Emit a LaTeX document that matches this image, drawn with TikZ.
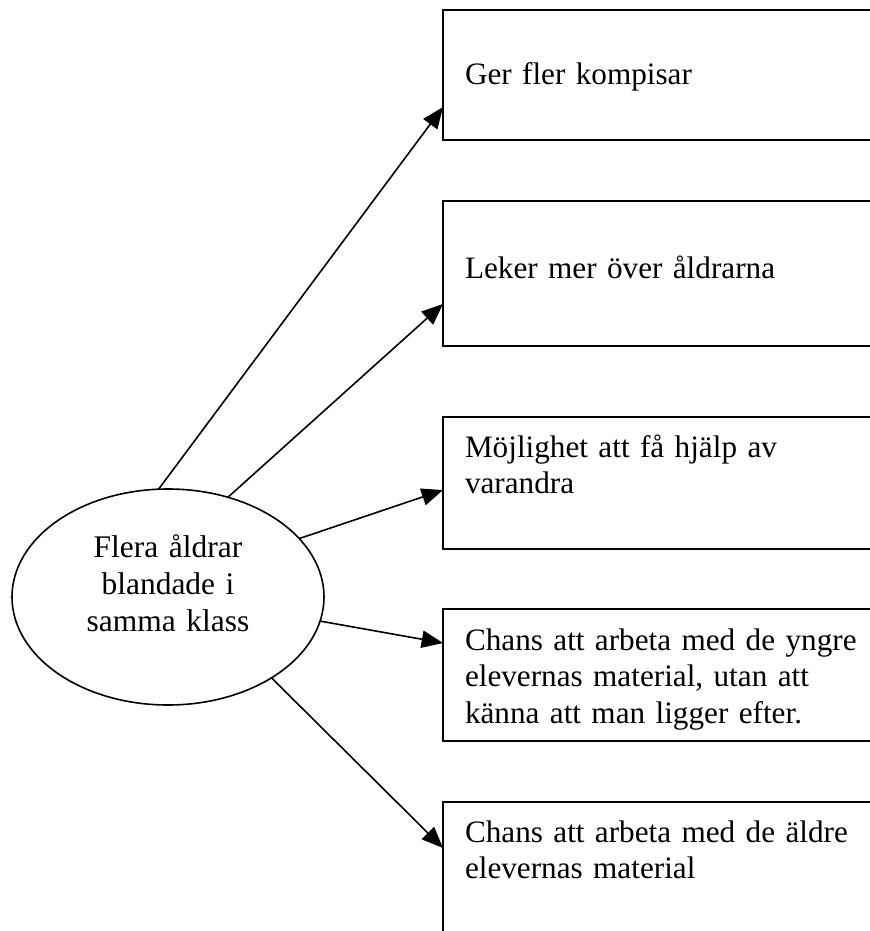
\documentclass[tikz,border=0pt]{standalone}
\usepackage{fontspec}
\setmainfont{Liberation Serif}
\usetikzlibrary{arrows.meta,shapes.geometric}
\tikzset{
  boxnode/.style={draw, line width=0.75pt, rectangle, anchor=north west, inner sep=0pt, outer sep=0pt, minimum width=172pt},
  txt/.style={anchor=base west, inner sep=0pt, outer sep=0pt, text width=160pt, align=left, font=\fontsize{11.7pt}{13.8pt}\selectfont},
  conn/.style={line width=0.6pt, -{Triangle[length=8pt, width=6.5pt]}, shorten >=0pt},
}
\begin{document}
\begin{tikzpicture}[x=0.375pt,y=-0.375pt]
\useasboundingbox (0,0) rectangle (870,931);
\clip (0,0) rectangle (870,931);
\fill[white] (0,0) rectangle (870,931);
% ellipse
\node[draw, ellipse, line width=0.6pt, inner sep=0pt, outer sep=0pt, minimum width=117pt, minimum height=81pt] (ell) at (168,597) {};
\node[anchor=base, inner sep=0pt, outer sep=0pt, text width=90pt, align=center, font=\fontsize{11.8pt}{14pt}\selectfont] (etxt) at (168,557) {Flera åldrar\\blandade i\\samma klass};
% boxes
\node[boxnode, minimum height=48.75pt] (b1) at (443,10) {};
\node[boxnode, minimum height=54.2pt] (b2) at (443,201) {};
\node[boxnode, minimum height=49.5pt] (b3) at (443,417) {};
\node[boxnode, minimum height=49.5pt] (b4) at (443,609) {};
\node[boxnode, minimum height=56pt] (b5) at (443,802) {};
% texts
\node[txt] (t1) at (465,85) {Ger fler kompisar};
\node[txt] (t2) at (465,278) {Leker mer över åldrarna};
\node[txt] (t3) at (465,457) {Möjlighet att få hjälp av\\varandra};
\node[txt] (t4) at (465,650) {Chans att arbeta med de yngre\\elevernas material, utan att\\känna att man ligger efter.};
\node[txt] (t5) at (465,842) {Chans att arbeta med de äldre\\elevernas material};
% connectors
\draw[conn] (ell.95.8) -- ([yshift=-36.4pt]b1.north west);
\draw[conn] (ell.59.8) -- ([yshift=-38.6pt]b2.north west);
\draw[conn] (ell.24.4) -- ([yshift=-27.4pt]b3.north west);
\draw[conn] (ell.-9.2) -- ([yshift=-12.75pt]b4.north west);
\draw[conn] (ell.-38.1) -- ([yshift=-17.25pt]b5.north west);
\end{tikzpicture}
\end{document}
